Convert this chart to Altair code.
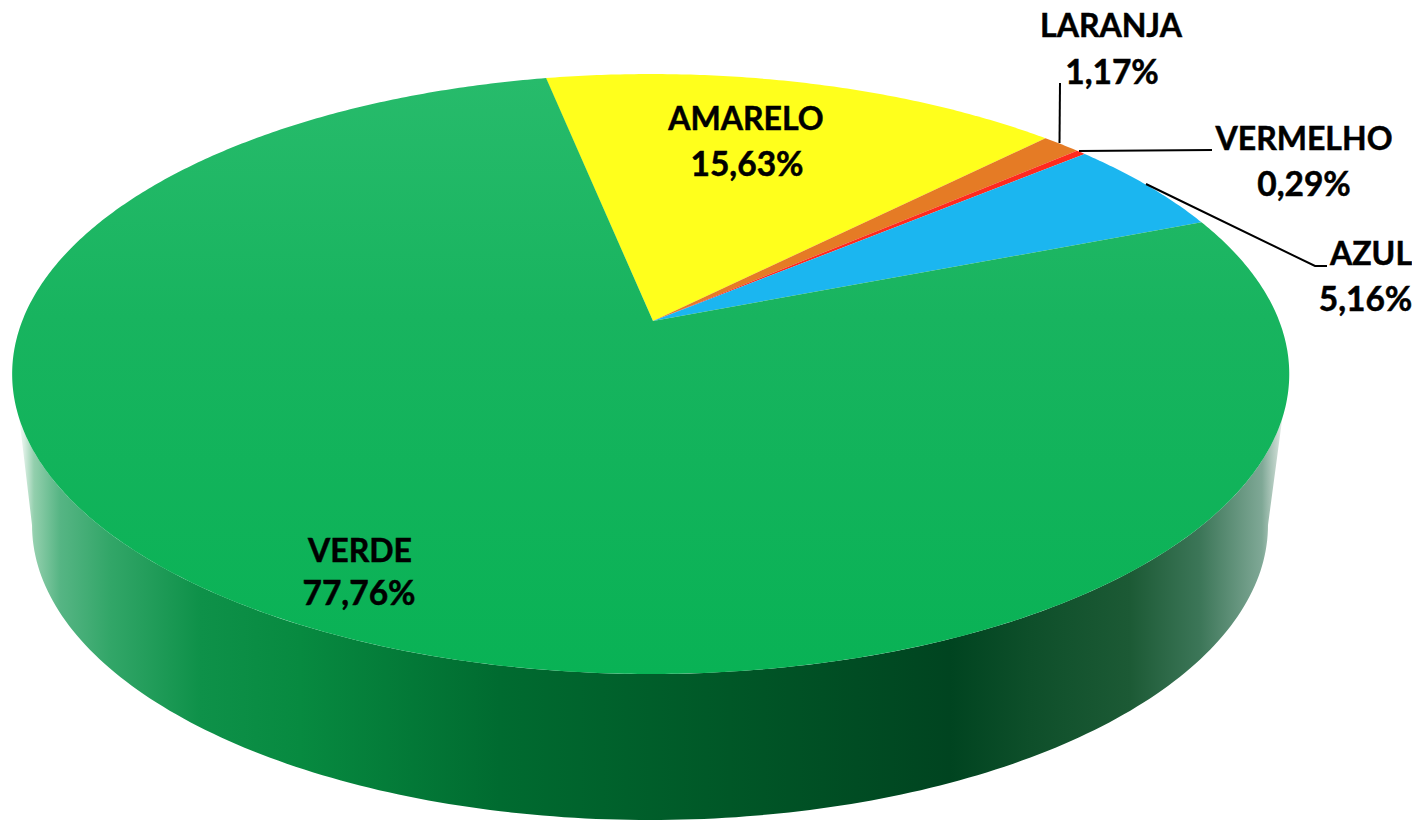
import math
import altair as alt

# --- chart values ---
categories = ["AMARELO", "LARANJA", "VERMELHO", "AZUL", "VERDE"]
shares = [15.63, 1.17, 0.29, 5.16, 77.76]

# --- styles and layout ---
slice_fill = {"AMARELO": "#FFFF1C", "LARANJA": "#E57B25", "VERMELHO": "#FF2A1E", "AZUL": "#1BB6F0"}
green_top = [(0.0, "#27BB6B"), (0.4, "#18B45F"), (1.0, "#09B255")]
wall_stops_px = [(17, "#FFFFFF"), (24, "#DCEFE4"), (34, "#93CFAD"), (60, "#56B584"), (110, "#32A668"),
                 (200, "#0E9149"), (300, "#078A40"), (500, "#006B30"), (730, "#005727"), (950, "#004420"),
                 (1030, "#0E4F2A"), (1130, "#1C5A35"), (1200, "#3C7658"), (1262, "#7FA896"), (1277, "#C4D6CD"), (1286, "#FFFFFF")]
# centre x of the name, baseline of the name, centre x of the share, baseline of the share
label_pos = {"AMARELO": (746, 130, 747, 176), "LARANJA": (1111, 37, 1112, 84), "VERMELHO": (1304, 150, 1304, 196),
             "AZUL": (1371, 265, 1365.5, 311), "VERDE": (360, 562, 359, 605)}
leader_lines = [[(1060, 83), (1059.5, 143)], [(1079, 151), (1212, 150)], [(1146, 184), (1315, 266), (1327, 266)]]

# perspective view of the disc
APEX_X, APEX_Y = 653, 321
RIM_X, SX, SY, K = 650.7, 628.5, 290.6, 0.1767
START_DEG = -11.3
LOW_CX, LOW_CY, LOW_A, LOW_B = 650, 525, 618, 295


def rim(deg):
    t = math.radians(deg)
    u, v = math.sin(t), math.cos(t)
    d = 1 + K * v
    return [RIM_X + SX * u / d, APEX_Y - SY * v / d]


def feature(kind, coords):
    return {"type": "Feature", "properties": {}, "geometry": {"type": kind, "coordinates": coords}}


def wedge(a0, a1):
    n = max(2, int((a1 - a0) * 2))
    pts = [rim(a0 + (a1 - a0) * i / n) for i in range(n + 1)]
    ring = [[APEX_X, APEX_Y]] + pts + [[APEX_X, APEX_Y]]
    return feature("Polygon", [ring])


def shape(data, **kw):
    return alt.Chart(alt.Data(values=data)).mark_geoshape(**kw)


# side wall: lower rim of the top face (right to left), then the lower ellipse (left to right)
upper = [rim(99.0 + i) for i in range(164)]
lower = [[LOW_CX - LOW_A * math.cos(math.radians(i)), LOW_CY + LOW_B * math.sin(math.radians(i))] for i in range(181)]
wall_ring = upper + lower + [upper[0]]
xs = [p[0] for p in wall_ring]
x0, x1 = min(xs), max(xs)
wall_fill = alt.Gradient(
    gradient="linear", x1=0, x2=1, y1=0, y2=0,
    stops=[alt.GradientStop(offset=max(0, min(1, (x - x0) / (x1 - x0))), color=c) for x, c in wall_stops_px],
)
layers = [shape([feature("Polygon", [wall_ring])], fill=wall_fill, strokeWidth=0)]

# top face slices, angles taken from the shares
angle = START_DEG
for name, share in zip(categories, shares):
    span = share * 3.6
    geo = wedge(angle, angle + span)
    if name == "VERDE":
        fill = alt.Gradient(gradient="linear", x1=0, x2=0, y1=0, y2=1,
                            stops=[alt.GradientStop(offset=o, color=c) for o, c in green_top])
    else:
        fill = slice_fill[name]
    layers.append(shape([geo], fill=fill, strokeWidth=0))
    angle += span

# leader lines
for line in leader_lines:
    layers.append(shape([feature("LineString", [list(p) for p in line])], filled=False, stroke="black", strokeWidth=2))

# labels: names and shares
name_rows, share_rows = [], []
for name, share in zip(categories, shares):
    xn, yn, xs_, ys = label_pos[name]
    name_rows.append({"t": name, "lon": xn, "lat": yn})
    share_rows.append({"t": f"{share:.2f}%".replace(".", ","), "lon": xs_, "lat": ys})
for rows, size in ((name_rows, 32), (share_rows, 33.5)):
    layers.append(
        alt.Chart(alt.Data(values=rows))
        .mark_text(font="Lato", fontWeight="bold", fontSize=size, color="black", stroke="black", strokeWidth=0.5,
                   align="center", baseline="alphabetic")
        .encode(longitude="lon:Q", latitude="lat:Q", text="t:N")
    )

chart = (
    alt.layer(*layers)
    .project(type="identity", scale=1, translate=[-8, -8])
    .properties(width=1404, height=813, padding=0, autosize=alt.AutoSizeParams(type="none"))
    .configure_view(stroke=None)
)
chart.save("out.html", embed_options={"renderer": "svg", "actions": False})
